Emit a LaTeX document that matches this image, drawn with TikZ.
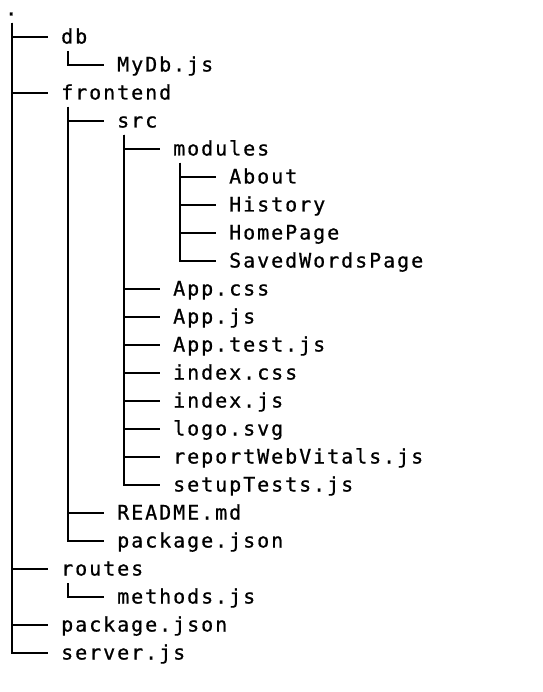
\documentclass[tikz,border=0pt]{standalone}
\usepackage{fontspec}
\newfontfamily\treefont[LetterSpace=9.8, FakeBold=0.8]{DejaVu Sans Mono}
\begin{document}
\begin{tikzpicture}[x=1pt, y=1pt,
    entry/.style={anchor=base west, inner sep=0pt, font={\fontsize{20}{24}\treefont}},
    branch/.style={line width=1.7pt}]
    \useasboundingbox (0, 0) rectangle (542, -692);
    % one row every 28pt, one level every 56pt
    \foreach \name/\row/\lvl/\label in {root/0/0/., db/1/1/db, mydb/2/2/MyDb.js,
        frontend/3/1/frontend, src/4/2/src, modules/5/3/modules,
        about/6/4/About, history/7/4/History, homepage/8/4/HomePage,
        saved/9/4/SavedWordsPage, appcss/10/3/App.css, appjs/11/3/App.js,
        apptest/12/3/App.test.js, indexcss/13/3/index.css, indexjs/14/3/index.js,
        logo/15/3/logo.svg, vitals/16/3/reportWebVitals.js, setup/17/3/setupTests.js,
        readme/18/2/README.md, fpkg/19/2/package.json, routes/20/1/routes,
        methods/21/2/methods.js, pkg/22/1/package.json, server/23/1/server.js}
        \node[entry] (\name) at (5 + 56*\lvl, -15.5 - 28*\row) {\label};
    % branches: down from the parent, then across to the child
    \foreach \p/\c in {root/db, root/frontend, root/routes, root/pkg, root/server,
        db/mydb, frontend/src, frontend/readme, frontend/fpkg,
        src/modules, src/appcss, src/appjs, src/apptest, src/indexcss, src/indexjs,
        src/logo, src/vitals, src/setup,
        modules/about, modules/history, modules/homepage, modules/saved,
        routes/methods}
        \draw[branch] ([shift={(7pt,-7.5pt)}]\p.base west) |- ([shift={(-13pt,6.5pt)}]\c.base west);
\end{tikzpicture}
\end{document}
